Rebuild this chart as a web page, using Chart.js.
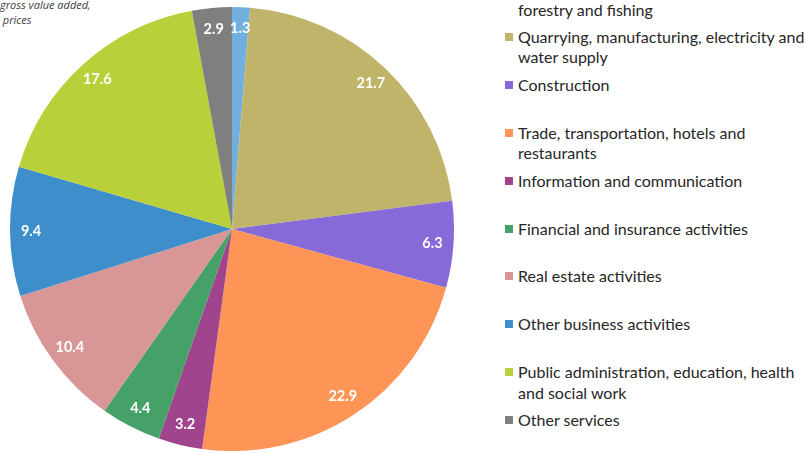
<!DOCTYPE html>
<html>
<head>
<meta charset="utf-8">
<script src="https://cdn.jsdelivr.net/npm/chart.js@4"></script>
<style>
  html, body { margin: 0; padding: 0; background: #fff; }
  body { width: 804px; height: 453px; overflow: hidden; position: relative; }
  #pieBox { position: absolute; left: 10px; top: 7px; width: 444px; height: 444px; }
  #title { position: absolute; left: 0px; top: -3px; font: italic 11px "Open Sans", sans-serif; line-height: 15px; color: #404040; }
  #legend { position: absolute; left: 505px; top: 0; right: 0; bottom: 0; }
  .item { position: absolute; left: 0; font: 16px Lato, sans-serif; line-height: 20.5px; color: #262626; white-space: nowrap; }
  .item .box { position: absolute; left: 0; top: 6px; width: 8px; height: 8px; }
  .item .txt { margin-left: 13px; }
</style>
</head>
<body>
<div id="title">gross value added,<br>&nbsp;prices</div>
<div id="pieBox"><canvas id="myChart"></canvas></div>
<div id="legend"></div>
<script>
const sectors = [
  ["Agriculture,", "forestry and fishing"],
  ["Quarrying, manufacturing, electricity and", "water supply"],
  ["Construction"],
  ["Trade, transportation, hotels and", "restaurants"],
  ["Information and communication"],
  ["Financial and insurance activities"],
  ["Real estate activities"],
  ["Other business activities"],
  ["Public administration, education, health", "and social work"],
  ["Other services"],
];
const shares = [1.3, 21.7, 6.3, 22.9, 3.2, 4.4, 10.4, 9.4, 17.6, 2.9];
const colors = [
  "#70AFDE", "#C0B46B", "#866AD8", "#FE9556", "#A0448E",
  "#45A168", "#D99696", "#3F8ECC", "#BAD03B", "#7F7F7F",
];

// white value labels near the outer edge of each slice
const sliceLabels = {
  id: "sliceLabels",
  afterDatasetsDraw(chart) {
    const c = chart.ctx;
    const meta = chart.getDatasetMeta(0);
    c.save();
    c.font = "bold 14.5px Lato, sans-serif";
    c.fillStyle = "#fff";
    c.textAlign = "center";
    c.textBaseline = "middle";
    meta.data.forEach((arc, i) => {
      const { x, y, startAngle, endAngle, outerRadius } = arc.getProps(
        ["x", "y", "startAngle", "endAngle", "outerRadius"], true);
      const mid = (startAngle + endAngle) / 2;
      const r = outerRadius - 21;
      c.fillText(shares[i].toFixed(1), x + Math.cos(mid) * r, y + Math.sin(mid) * r);
    });
    c.restore();
  },
};

const ctx = document.getElementById("myChart");
const myChart = new Chart(ctx, {
  type: "pie",
  data: {
    labels: sectors,
    datasets: [{ data: shares, backgroundColor: colors, borderWidth: 0 }],
  },
  options: {
    responsive: true,
    maintainAspectRatio: false,
    animation: false,
    plugins: { legend: { display: false }, tooltip: { enabled: false } },
  },
  plugins: [sliceLabels],
});

// html legend built from the chart's own labels and colours
const legend = document.getElementById("legend");
myChart.data.labels.forEach((lines, i) => {
  const item = document.createElement("div");
  item.className = "item";
  item.style.top = (-21 + 47.9 * i) + "px";
  const box = document.createElement("span");
  box.className = "box";
  box.style.background = myChart.data.datasets[0].backgroundColor[i];
  const txt = document.createElement("div");
  txt.className = "txt";
  txt.innerHTML = lines.join("<br>");
  item.appendChild(box);
  item.appendChild(txt);
  legend.appendChild(item);
});
</script>
</body>
</html>
